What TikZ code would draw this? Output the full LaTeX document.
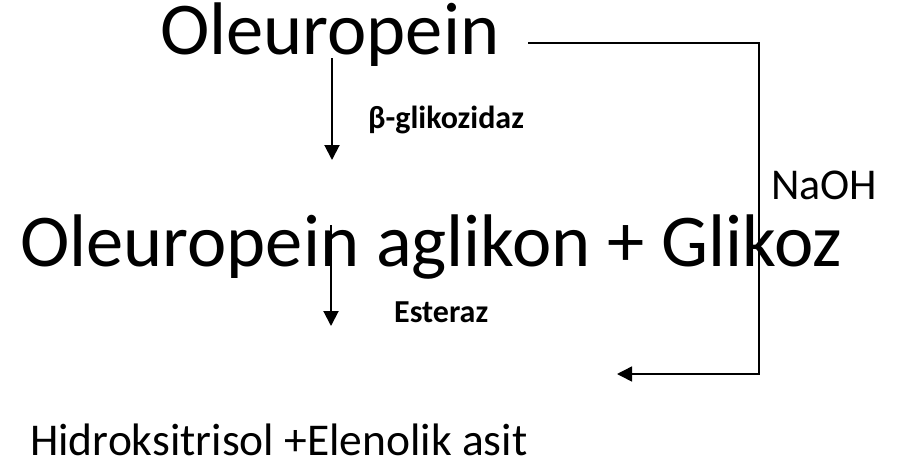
\documentclass[tikz,border=0pt]{standalone}
\usepackage{fontspec}
\setmainfont{Carlito}
\usetikzlibrary{arrows.meta}
\tikzset{
  big/.style={anchor=base west, inner sep=0pt, font=\fontsize{74.5}{88}\selectfont},
  mid/.style={anchor=base west, inner sep=0pt, font=\fontsize{45.5}{54}\selectfont},
  enz/.style={anchor=base west, inner sep=0pt, font=\bfseries\fontsize{32}{38}\selectfont},
  react/.style={line width=2pt, -{Triangle[length=15pt,width=15pt]}},
  base/.style={line width=1.5pt, -{Triangle[length=15pt,width=15pt]}}
}
\begin{document}
\begin{tikzpicture}[x=1pt,y=-1pt]
\useasboundingbox (0,0) rectangle (899,472);
\node[big] (ole) at (160,54) {Oleuropein};
\node[big] (agl) at (20,266) {Oleuropein aglikon + Glikoz};
\node[mid] (hid) at (30,455) {Hidroksitrisol +Elenolik asit};
\node[enz] (bg) at (368,128) {β-glikozidaz};
\node[enz] (est) at (394,322) {Esteraz};
\node[mid, font=\fontsize{44}{52}\selectfont] (naoh) at (771,199) {NaOH};
\coordinate (a1s) at (332,58);
\coordinate (a1e) at (332,160);
\coordinate (a2s) at (331,225);
\coordinate (a2e) at (331,326);
\coordinate (ns) at (528,43);
\coordinate (nc) at (759,43);
\coordinate (nd) at (759,374);
\coordinate (ne) at (617,374);
\draw[react] (a1s) -- (a1e);
\draw[react] (a2s) -- (a2e);
\draw[base] (ns) -- (nc) -- (nd) -- (ne);
\end{tikzpicture}
\end{document}
